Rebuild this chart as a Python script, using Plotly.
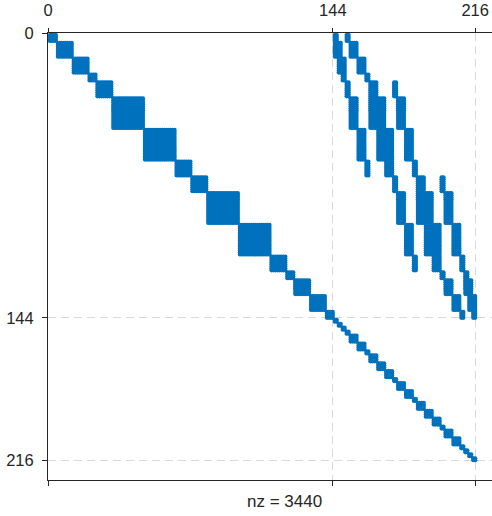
import plotly.graph_objects as go

# ---- data (1-based matrix indices, 216 x 216) ----
# dense diagonal blocks, rows/cols 1..144
top_block_sizes = [4, 8, 8, 4, 8, 16, 16, 8, 8, 16, 16, 8, 4, 8, 8, 4]
# dense diagonal blocks, rows/cols 145..216
bottom_block_sizes = [2, 2, 2, 2, 4, 4, 2, 4, 4, 4, 2, 4, 4, 2, 4, 4, 4, 2, 4, 4, 2, 2, 2, 2]
# coupling (upper-right) column ranges for each top row block
coupling_ranges = [
    [(145, 146), (151, 152)],
    [(145, 148), (153, 156)],
    [(147, 150), (157, 160)],
    [(149, 150), (161, 162)],
    [(151, 152), (163, 166), (175, 176)],
    [(153, 156), (163, 170), (177, 180)],
    [(157, 160), (167, 174), (181, 184)],
    [(161, 162), (171, 174), (185, 186)],
    [(175, 176), (187, 190), (199, 200)],
    [(177, 180), (187, 194), (201, 204)],
    [(181, 184), (191, 198), (205, 208)],
    [(185, 186), (195, 198), (209, 210)],
    [(199, 200), (211, 212)],
    [(201, 204), (211, 214)],
    [(205, 208), (213, 216)],
    [(209, 210), (215, 216)],
]
tick_values = [0, 144, 216]

# ---- build the nonzero pattern ----
rows, cols = [], []
start = 1
row_groups = []
for s in top_block_sizes:
    idx = list(range(start, start + s))
    row_groups.append(idx)
    for i in idx:
        for j in idx:
            rows.append(i)
            cols.append(j)
    start += s
for s in bottom_block_sizes:
    idx = list(range(start, start + s))
    for i in idx:
        for j in idx:
            rows.append(i)
            cols.append(j)
    start += s
for g, ranges in zip(row_groups, coupling_ranges):
    for (c0, c1) in ranges:
        for i in g:
            for j in range(c0, c1 + 1):
                rows.append(i)
                cols.append(j)
nz = len(rows)

BLUE = "#0072BD"
DARK = "#262626"
GRID = "#d9d9d9"
FONT = "Liberation Sans, Arial, sans-serif"

fig = go.Figure()
fig.add_trace(go.Scatter(
    x=cols, y=rows, mode="markers",
    marker=dict(symbol="circle", size=4.2, color=BLUE, line=dict(width=0)),
    hoverinfo="skip", showlegend=False,
))
fig.add_trace(go.Scatter(x=[None], y=[None], xaxis="x2", yaxis="y",
                         mode="markers", showlegend=False, hoverinfo="skip"))

XR = [0, 224.5]
YR = [226, 0]

fig.update_layout(
    width=492, height=516,
    margin=dict(l=48, r=0, t=33, b=36),
    plot_bgcolor="white", paper_bgcolor="white",
    showlegend=False,
    font=dict(family=FONT, color=DARK, size=16),
    xaxis=dict(
        range=XR, side="top", tickvals=tick_values, ticktext=[str(v) for v in tick_values],
        ticks="outside", ticklen=4, tickcolor=DARK, tickwidth=1,
        showline=True, linecolor=DARK, linewidth=1,
        showgrid=True, gridcolor=GRID, griddash="8px,5px", gridwidth=1,
        zeroline=False, tickfont=dict(size=16.5, family=FONT, color=DARK),
        ticklabelstandoff=5,
    ),
    xaxis2=dict(
        range=XR, overlaying="x", side="bottom", anchor="y", matches="x",
        tickvals=tick_values, ticks="outside", ticklen=5, tickcolor=DARK,
        showticklabels=False, showline=True, linecolor=DARK, linewidth=1,
        showgrid=False, zeroline=False,
    ),
    yaxis=dict(
        range=YR, tickvals=tick_values, ticktext=[str(v) for v in tick_values],
        ticks="outside", ticklen=5, tickcolor=DARK, tickwidth=1,
        showline=True, linecolor=DARK, linewidth=1,
        showgrid=True, gridcolor=GRID, griddash="8px,5px", gridwidth=1,
        zeroline=False, tickfont=dict(size=16.5, family=FONT, color=DARK),
        ticklabelstandoff=5,
    ),
    annotations=[dict(
        text=f"nz = {nz}", xref="paper", yref="paper",
        x=(284 - 48) / 444, y=-(501 - 480) / 447,
        xanchor="center", yanchor="middle", showarrow=False,
        font=dict(size=17, family=FONT, color=DARK),
    )],
)

fig.write_html("out.html")
